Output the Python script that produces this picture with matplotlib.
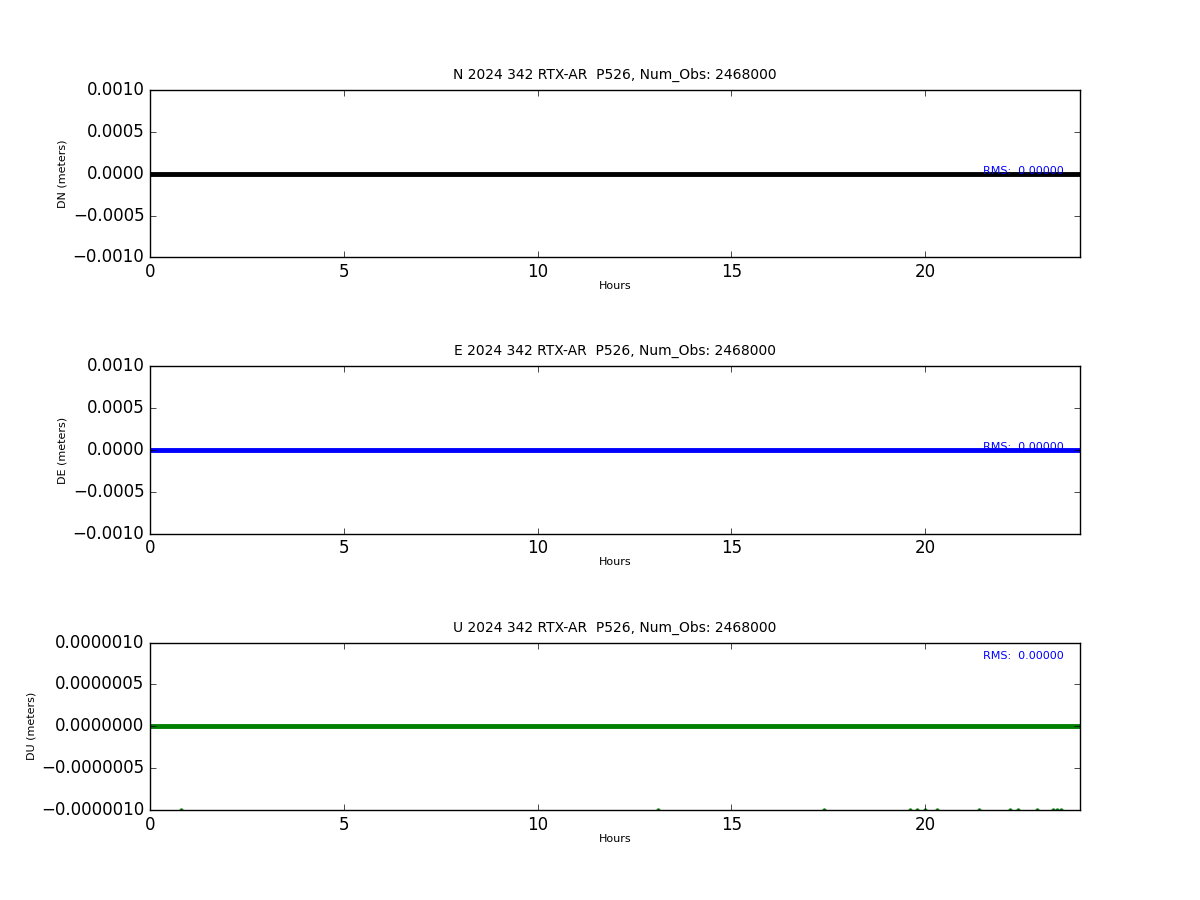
import numpy as np
import matplotlib
matplotlib.use("Agg")
import matplotlib.pyplot as plt
from matplotlib.ticker import FuncFormatter

plt.style.use("classic")

hours = [0.0, 6.0, 12.0, 18.0, 24.0]
dn = [0.0, 0.0, 0.0, 0.0, 0.0]
de = [0.0, 0.0, 0.0, 0.0, 0.0]
du = [0.0, 0.0, 0.0, 0.0, 0.0]

# outliers in the U component sitting on the lower edge
du_out_hours = [0.8, 13.1, 17.4, 19.6, 19.8, 20.0, 20.3, 21.4, 22.2, 22.4, 22.9, 23.3, 23.4, 23.5]
du_out_vals = [-1e-6] * len(du_out_hours)

title_tail = " 2024 342 RTX-AR  P526, Num_Obs: 2468000"
rms_vals = [0.0, 0.0, 0.0]


def fmt(decimals):
    return FuncFormatter(lambda v, p: f"{v:.{decimals}f}".replace("-", "\u2212"))


fig, axes = plt.subplots(3, 1, figsize=(12, 9), dpi=100)
fig.subplots_adjust(left=0.125, right=0.9, top=0.9, bottom=0.1, hspace=0.65)
fig.patch.set_facecolor("white")

panels = [
    ("N", dn, "k", "DN (meters)", 1e-3, 4, 0.0),
    ("E", de, "b", "DE (meters)", 1e-3, 4, 0.0),
    ("U", du, "g", "DU (meters)", 1e-6, 7, 8e-7),
]

for i, (ax, (comp, vals, col, ylab, lim, dec, ytxt)) in enumerate(zip(axes, panels)):
    ax.plot(hours, vals, color=col, lw=3.5)
    if comp == "U":
        ax.plot(du_out_hours, du_out_vals, ".", color="g", ms=5, mec="g")
    ax.set_xlim(0, 24)
    ax.set_ylim(-lim, lim)
    ax.set_yticks(np.linspace(-lim, lim, 5))
    ax.set_xticks([0, 5, 10, 15, 20])
    ax.yaxis.set_major_formatter(fmt(dec))
    ax.set_title(comp + title_tail, fontsize=10, pad=8)
    ax.set_xlabel("Hours", fontsize=8, labelpad=0)
    ax.set_ylabel(ylab, fontsize=8, labelpad=3.5)
    ax.text(21.5, ytxt, f"RMS:  {rms_vals[i]:.5f}", color="b", fontsize=8)

fig.savefig("out.png", dpi=100, facecolor="white")
